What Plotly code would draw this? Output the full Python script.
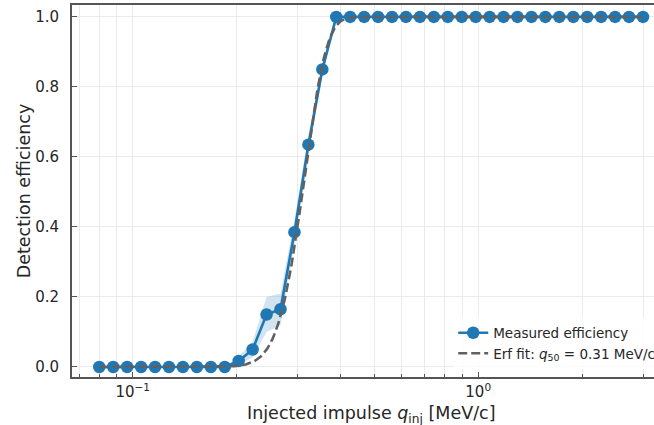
import math
import numpy as np
import plotly.graph_objects as go

# Injected impulse values [MeV/c] (log-spaced scan)
q_inj = [0.0800, 0.08779, 0.09634, 0.10572, 0.11602, 0.12731, 0.13971, 0.15332,
         0.16825, 0.18463, 0.20261, 0.22234, 0.24399, 0.26775, 0.29382, 0.32244,
         0.35384, 0.38829, 0.42610, 0.46760, 0.51313, 0.56310, 0.61794, 0.67811,
         0.74415, 0.81661, 0.89613, 0.98340, 1.07917, 1.18425, 1.29958, 1.42613,
         1.56501, 1.71741, 1.88465, 2.06817, 2.26957, 2.49058, 2.73312, 3.0000]

# Measured detection efficiency at each impulse
efficiency = [0.0, 0.0, 0.0, 0.0, 0.0, 0.0, 0.0, 0.0, 0.0, 0.0,
              0.017, 0.05, 0.15, 0.165, 0.385, 0.635, 0.85,
              1.0, 1.0, 1.0, 1.0, 1.0, 1.0, 1.0, 1.0, 1.0, 1.0, 1.0, 1.0,
              1.0, 1.0, 1.0, 1.0, 1.0, 1.0, 1.0, 1.0, 1.0, 1.0, 1.0]

# 1-sigma uncertainty on the efficiency
eff_err = [0.0, 0.0, 0.0, 0.0, 0.0, 0.0, 0.0, 0.0, 0.0, 0.0,
           0.012, 0.022, 0.05, 0.045, 0.035, 0.03, 0.02,
           0.0, 0.0, 0.0, 0.0, 0.0, 0.0, 0.0, 0.0, 0.0, 0.0, 0.0, 0.0,
           0.0, 0.0, 0.0, 0.0, 0.0, 0.0, 0.0, 0.0, 0.0, 0.0, 0.0]

# Error-function fit parameters
q50 = 0.31
sigma_q = 0.04

x_tick_vals = [0.1, 1.0]
x_tick_text = ["10<sup>\u22121</sup>", "10<sup>0</sup>"]
x_minor_vals = [0.07, 0.08, 0.09, 0.2, 0.3, 0.4, 0.5, 0.6, 0.7, 0.8, 0.9, 2.0, 3.0]
y_tick_vals = [0.0, 0.2, 0.4, 0.6, 0.8, 1.0]

BLUE = "#1f77b4"
FONT = "DejaVu Sans"
TEXT = "#262626"

lower = [max(0.0, e - s) for e, s in zip(efficiency, eff_err)]
upper = [min(1.0, e + s) for e, s in zip(efficiency, eff_err)]

q_fit = np.geomspace(q_inj[0], q_inj[-1], 500)
eff_fit = [0.5 * (1.0 + math.erf((q - q50) / (math.sqrt(2.0) * sigma_q))) for q in q_fit]

fig = go.Figure()

# uncertainty band
fig.add_trace(go.Scatter(x=q_inj, y=upper, mode="lines", line=dict(width=0, color=BLUE),
                         showlegend=False, hoverinfo="skip"))
fig.add_trace(go.Scatter(x=q_inj, y=lower, mode="lines", line=dict(width=0, color=BLUE),
                         fill="tonexty", fillcolor="rgba(31,119,180,0.2)",
                         showlegend=False, hoverinfo="skip"))

# measured efficiency
fig.add_trace(go.Scatter(x=q_inj, y=efficiency, mode="lines+markers",
                         name="Measured efficiency",
                         line=dict(color=BLUE, width=2.6),
                         marker=dict(color=BLUE, size=12.5)))

# erf fit
fig.add_trace(go.Scatter(x=q_fit, y=eff_fit, mode="lines",
                         name="Erf fit: <i>q</i><sub>50</sub> = %.2f MeV/c" % q50,
                         line=dict(color="#616161", width=2.6, dash="9px,4px")))

axis_line = "#555555"
grid_col = "#ebebeb"

fig.update_xaxes(
    type="log",
    range=[math.log10(0.0667), math.log10(3.228)],
    tickvals=x_tick_vals, ticktext=x_tick_text,
    ticks="inside", ticklen=5, tickwidth=1.2, tickcolor=axis_line,
    showline=True, linecolor=axis_line, linewidth=1.8, mirror=True,
    showgrid=True, gridcolor=grid_col, gridwidth=1,
    zeroline=False,
    tickfont=dict(family=FONT, size=15, color=TEXT),
    ticklabelstandoff=0,
    minor=dict(tickvals=x_minor_vals, ticks="inside", ticklen=3, tickwidth=1,
               tickcolor=axis_line, showgrid=True, gridcolor=grid_col, gridwidth=1),
)

fig.update_yaxes(
    range=[-0.0286, 1.034],
    tickvals=y_tick_vals, tickformat=".1f",
    ticks="inside", ticklen=5, tickwidth=1.2, tickcolor=axis_line,
    showline=True, linecolor=axis_line, linewidth=1.8, mirror=False,
    showgrid=True, gridcolor=grid_col, gridwidth=1,
    zeroline=False,
    tickfont=dict(family=FONT, size=15, color=TEXT),
    ticklabelstandoff=8,
    title=dict(text="Detection efficiency", font=dict(family=FONT, size=17.5, color=TEXT),
               standoff=0),
)

fig.add_annotation(
    text="Injected impulse <i>q</i><sub>inj</sub> [MeV/c]",
    xref="paper", yref="paper", x=0.515, y=-0.102,
    xanchor="center", yanchor="middle", showarrow=False,
    font=dict(family=FONT, size=17.5, color=TEXT),
)

fig.update_layout(
    width=654, height=425,
    margin=dict(l=72, r=0, t=5, b=48, autoexpand=False),
    paper_bgcolor="white", plot_bgcolor="white",
    font=dict(family=FONT, color=TEXT),
    showlegend=True,
    legend=dict(x=0.655, y=0.16, xanchor="left", yanchor="top",
                traceorder="normal",
                bgcolor="rgba(255,255,255,0.8)", borderwidth=0,
                font=dict(family=FONT, size=13.5, color=TEXT),
                itemwidth=30, tracegroupgap=0),
)

fig.write_html("out.html")
